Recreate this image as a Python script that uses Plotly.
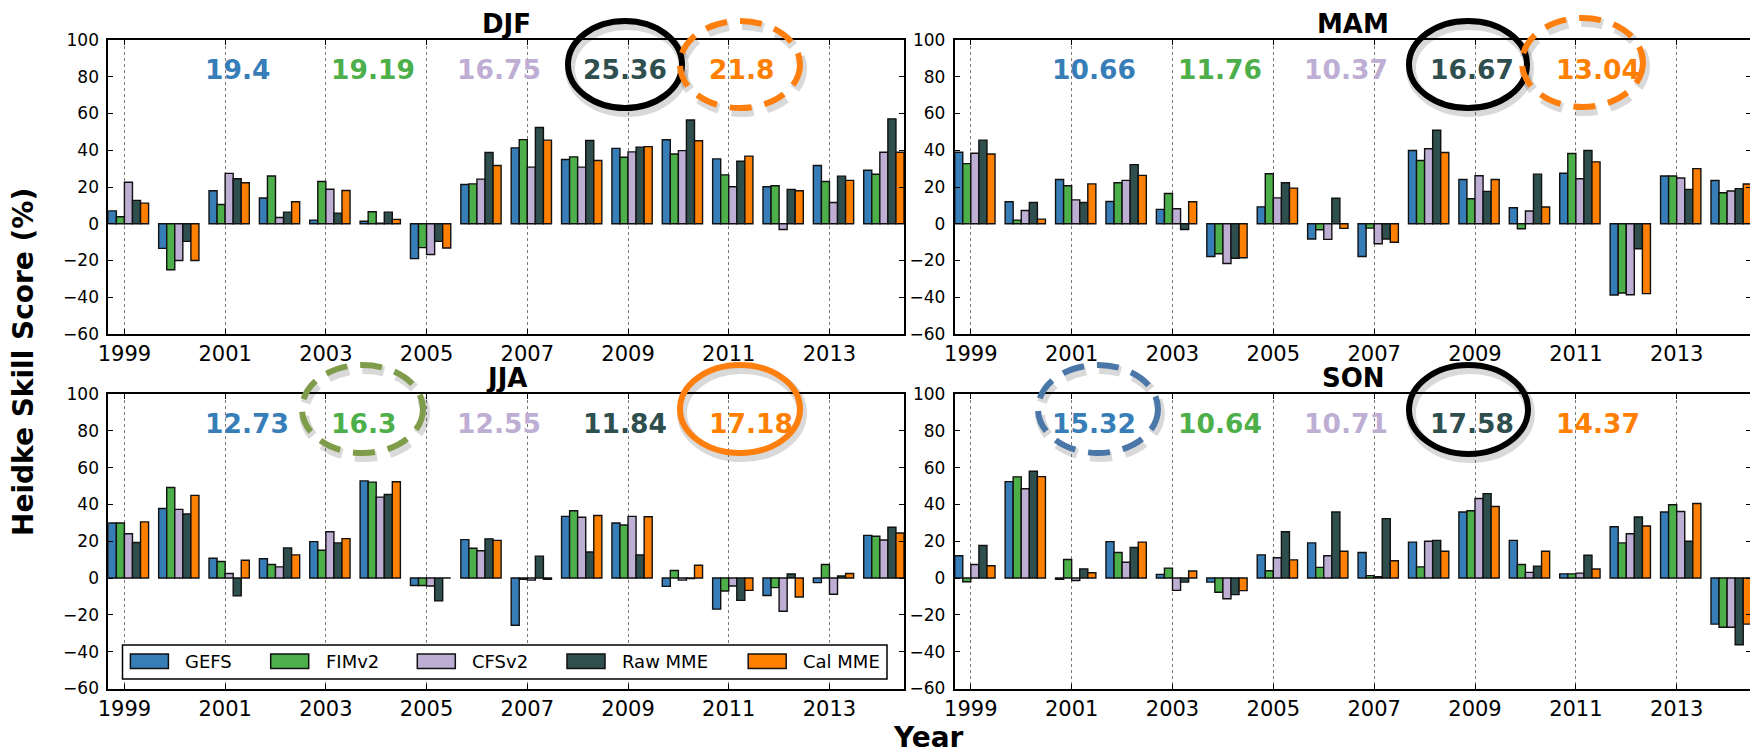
import plotly.graph_objects as go

# ---------------- data ----------------
years = list(range(1999, 2015))
tick_years = list(range(1999, 2014, 2))
series = ["GEFS", "FIMv2", "CFSv2", "Raw MME", "Cal MME"]
colors = ["#377eb8", "#4daf4a", "#beaed4", "#2f4f4f", "#ff7f00"]
seasons = ["DJF", "MAM", "JJA", "SON"]

djf_gefs = [7.0, -13.4, 18.0, 14.0, 2.0, 1.4, -19.0, 21.4, 41.3, 35.0, 41.0, 45.7, 35.3, 20.1, 31.7, 29.1]
djf_fimv2 = [3.8, -25.0, 10.5, 26.0, 23.0, 6.5, -13.0, 21.7, 45.8, 36.4, 36.2, 38.0, 26.6, 20.7, 23.0, 26.9]
djf_cfsv2 = [22.6, -20.0, 27.4, 3.4, 18.8, 0.3, -16.7, 24.3, 30.8, 30.8, 39.1, 39.8, 20.1, -3.1, 11.6, 38.9]
djf_raw = [12.7, -9.6, 24.5, 6.3, 5.8, 6.3, -9.6, 38.8, 52.4, 45.3, 41.7, 56.5, 34.0, 18.7, 25.9, 57.1]
djf_cal = [11.2, -20.0, 22.3, 12.0, 18.1, 2.4, -13.2, 31.7, 45.5, 34.4, 42.0, 45.2, 36.8, 18.0, 23.6, 38.9]

mam_gefs = [38.9, 12.0, 24.1, 12.1, 7.8, -17.8, 9.2, -8.3, -17.8, 39.9, 24.1, 8.7, 27.5, -38.8, 26.0, 23.5]
mam_fimv2 = [32.7, 2.0, 20.7, 22.3, 16.5, -16.3, 27.2, -3.3, -2.4, 34.4, 13.6, -2.7, 38.2, -37.7, 26.0, 16.9]
mam_cfsv2 = [38.4, 7.2, 13.0, 23.6, 8.2, -21.6, 14.1, -8.5, -10.9, 40.8, 26.1, 6.9, 24.5, -38.6, 24.9, 17.8]
mam_raw = [45.5, 11.6, 11.6, 32.2, -3.1, -18.8, 22.3, 13.9, -8.3, 50.9, 17.6, 27.0, 39.9, -13.6, 18.7, 19.1]
mam_cal = [38.0, 2.5, 21.7, 26.3, 12.0, -18.5, 19.4, -2.5, -10.1, 38.8, 24.1, 9.1, 33.7, -38.0, 30.0, 21.6]

jja_gefs = [29.9, 37.8, 10.8, 10.5, 19.8, 52.8, -4.0, 20.9, -25.6, 33.5, 29.9, -4.5, -16.9, -9.5, -2.5, 23.2]
jja_fimv2 = [29.9, 49.2, 9.0, 7.4, 15.1, 52.1, -4.0, 16.2, -0.7, 36.6, 28.8, 4.1, -7.0, -5.2, 7.4, 22.7]
jja_cfsv2 = [24.1, 37.3, 2.5, 6.1, 25.2, 44.0, -4.3, 14.8, -1.1, 33.0, 33.5, -1.1, -4.3, -18.0, -8.8, 20.7]
jja_raw = [19.3, 34.8, -9.7, 16.4, 19.1, 45.4, -12.4, 21.3, 11.9, 14.2, 12.6, -0.3, -12.1, 2.2, 1.1, 27.6]
jja_cal = [30.5, 44.9, 9.7, 12.6, 21.4, 52.3, 0.0, 20.5, -0.7, 34.0, 33.3, 7.0, -6.7, -10.3, 2.5, 24.5]

son_gefs = [12.1, 52.4, -0.7, 19.8, 2.0, -2.2, 12.6, 19.1, 13.9, 19.5, 35.9, 20.5, 2.3, 27.9, 35.9, -25.0]
son_fimv2 = [-2.0, 55.0, 10.1, 13.9, 5.4, -7.7, 4.0, 5.8, 1.3, 6.1, 36.6, 7.4, 2.3, 19.1, 39.8, -26.7]
son_cfsv2 = [7.4, 48.5, -1.3, 8.6, -6.7, -11.2, 11.0, 12.1, 0.7, 20.0, 43.2, 3.1, 2.7, 24.1, 36.2, -26.7]
son_raw = [17.7, 58.0, 5.0, 16.6, -2.2, -9.0, 25.2, 35.9, 32.3, 20.5, 45.9, 6.5, 12.4, 33.2, 20.0, -36.2]
son_cal = [6.7, 55.1, 2.9, 19.5, 3.8, -6.8, 9.9, 14.6, 9.4, 14.6, 38.9, 14.6, 4.9, 28.3, 40.5, -25.0]

djf_scores = [19.4, 19.19, 16.75, 25.36, 21.8]
mam_scores = [10.66, 11.76, 10.37, 16.67, 13.04]
jja_scores = [12.73, 16.3, 12.55, 11.84, 17.18]
son_scores = [15.32, 10.64, 10.71, 17.58, 14.37]

season_data = {
    "DJF": [djf_gefs, djf_fimv2, djf_cfsv2, djf_raw, djf_cal],
    "MAM": [mam_gefs, mam_fimv2, mam_cfsv2, mam_raw, mam_cal],
    "JJA": [jja_gefs, jja_fimv2, jja_cfsv2, jja_raw, jja_cal],
    "SON": [son_gefs, son_fimv2, son_cfsv2, son_raw, son_cal],
}
season_scores = {"DJF": djf_scores, "MAM": mam_scores, "JJA": jja_scores, "SON": son_scores}

# ---------------- layout geometry (pixels of the 1758x752 window) ----------------
W, H = 1758, 752
PAGE_OFF = 8  # default body margin of the html page
FONT = "DejaVu Sans"
XMIN, XMAX = 1998.68, 2014.48
panels_px = {  # left, right, top, bottom
    "DJF": (108.3, 904.0, 40.0, 334.0),
    "MAM": (954.7, 1751.3, 40.0, 334.0),
    "JJA": (108.3, 904.0, 394.0, 688.5),
    "SON": (954.7, 1751.3, 394.0, 688.5),
}
axis_ids = {"DJF": ("x", "y"), "MAM": ("x2", "y2"), "JJA": ("x3", "y3"), "SON": ("x4", "y4")}


def px(x):
    return (x - PAGE_OFF) / W


def py(y):
    return 1 - (y - PAGE_OFF) / H


bar_w = 0.16
fig = go.Figure()

for s in seasons:
    xa, ya = axis_ids[s]
    for i, name in enumerate(series):
        fig.add_trace(go.Bar(
            x=years, y=season_data[s][i], name=name,
            width=bar_w, offset=-0.32 + i * bar_w,
            marker=dict(color=colors[i], line=dict(color="#111111", width=1.4)),
            xaxis=xa, yaxis=ya, showlegend=False,
        ))

layout_axes = {}
for k, s in enumerate(seasons):
    l, r, t, b = panels_px[s]
    suffix = "" if k == 0 else str(k + 1)
    layout_axes["xaxis" + suffix] = dict(
        domain=[px(l), px(r)], anchor="y" + suffix,
        range=[XMIN, XMAX], tickmode="array", tickvals=tick_years,
        ticks="inside", ticklen=5, tickwidth=1.2, tickcolor="black",
        showline=True, linecolor="black", linewidth=1.8, mirror="ticks",
        showgrid=True, griddash="dot", gridcolor="#7a7a7a", gridwidth=1,
        zeroline=False, ticklabelstandoff=0,
        tickfont=dict(family=FONT, size=21, color="black"),
    )
    layout_axes["yaxis" + suffix] = dict(
        domain=[py(b), py(t)], anchor="x" + suffix,
        range=[-60, 100], tickmode="linear", tick0=-60, dtick=20,
        ticks="inside", ticklen=5, tickwidth=1.2, tickcolor="black",
        showline=True, linecolor="black", linewidth=1.8, mirror="ticks",
        showgrid=False, zeroline=False, ticklabelstandoff=4,
        tickfont=dict(family=FONT, size=17, color="black"),
    )

annotations = []
shapes = []

# panel titles and skill score numbers
for s in seasons:
    l, r, t, b = panels_px[s]
    xa, ya = axis_ids[s]
    annotations.append(dict(
        text="<b>%s</b>" % s, xref="paper", yref="paper",
        x=px((l + r) / 2), y=py(t - 16), xanchor="center", yanchor="middle",
        showarrow=False, font=dict(family=FONT, size=26, color="black"),
    ))
    for i, v in enumerate(season_scores[s]):
        annotations.append(dict(
            text="<b>%s</b>" % v, xref="paper", yref=ya,
            x=px(l + (2000.57 - XMIN) / (XMAX - XMIN) * (r - l) + i * 126.0),
            y=84.0, xanchor="left", yanchor="middle",
            showarrow=False, font=dict(family=FONT, size=26.5, color=colors[i]),
        ))

# highlight ellipses (pixel boxes: x0, x1, y0, y1, color, dash)
ellipses = [
    (568, 682, 21, 108, "#000000", "solid"),
    (680, 800, 21, 108, "#ff7f0e", "22px,13px"),
    (1409, 1527, 21, 108, "#000000", "solid"),
    (1522, 1643, 18, 107, "#ff7f0e", "22px,13px"),
    (302, 423, 365, 453, "#7f9c4a", "22px,13px"),
    (680, 800, 365, 453, "#ff7f0e", "solid"),
    (1038, 1158, 365, 453, "#4a76a8", "22px,13px"),
    (1409, 1528, 365, 454, "#000000", "solid"),
]
for x0, x1, y0, y1, c, d in ellipses:
    shapes.append(dict(type="circle", xref="paper", yref="paper",
                       x0=px(x0 + 2), x1=px(x1 + 2), y0=py(y1 + 4), y1=py(y0 + 4),
                       line=dict(color="rgba(0,0,0,0.15)", width=10, dash=d), layer="above"))
    shapes.append(dict(type="circle", xref="paper", yref="paper",
                       x0=px(x0), x1=px(x1), y0=py(y1), y1=py(y0),
                       line=dict(color=c, width=6, dash=d), layer="above"))

# legend (drawn in the JJA panel)
leg_box = (122.5, 887.0, 645.0, 679.0)
shapes.append(dict(type="rect", xref="paper", yref="paper",
                   x0=px(leg_box[0]), x1=px(leg_box[1]), y0=py(leg_box[3]), y1=py(leg_box[2]),
                   line=dict(color="black", width=1.5), fillcolor="white", layer="above"))
leg_x = [130.4, 270.7, 417.3, 567.0, 748.2]
for i, name in enumerate(series):
    shapes.append(dict(type="rect", xref="paper", yref="paper",
                       x0=px(leg_x[i]), x1=px(leg_x[i] + 38), y0=py(668.5), y1=py(654.0),
                       line=dict(color="#111111", width=1.5), fillcolor=colors[i], layer="above"))
    annotations.append(dict(
        text=name, xref="paper", yref="paper", x=px(leg_x[i] + 53), y=py(661.5),
        xanchor="left", yanchor="middle", showarrow=False,
        font=dict(family=FONT, size=18, color="black"),
    ))

# axis titles
annotations.append(dict(
    text="<b>Heidke Skill Score (%)</b>", xref="paper", yref="paper",
    x=px(23.5), y=py(362.5), xanchor="center", yanchor="middle", textangle=-90,
    showarrow=False, font=dict(family=FONT, size=28, color="black"),
))
annotations.append(dict(
    text="<b>Year</b>", xref="paper", yref="paper",
    x=px(928), y=py(719), xanchor="center", yanchor="top",
    showarrow=False, font=dict(family=FONT, size=28, color="black"),
))

fig.update_layout(
    width=W, height=H, autosize=False,
    margin=dict(l=0, r=0, t=0, b=0, autoexpand=False),
    paper_bgcolor="white", plot_bgcolor="white",
    barmode="overlay", showlegend=False,
    annotations=annotations, shapes=shapes,
    font=dict(family=FONT, color="black"),
    **layout_axes,
)

fig.write_html("out.html")
